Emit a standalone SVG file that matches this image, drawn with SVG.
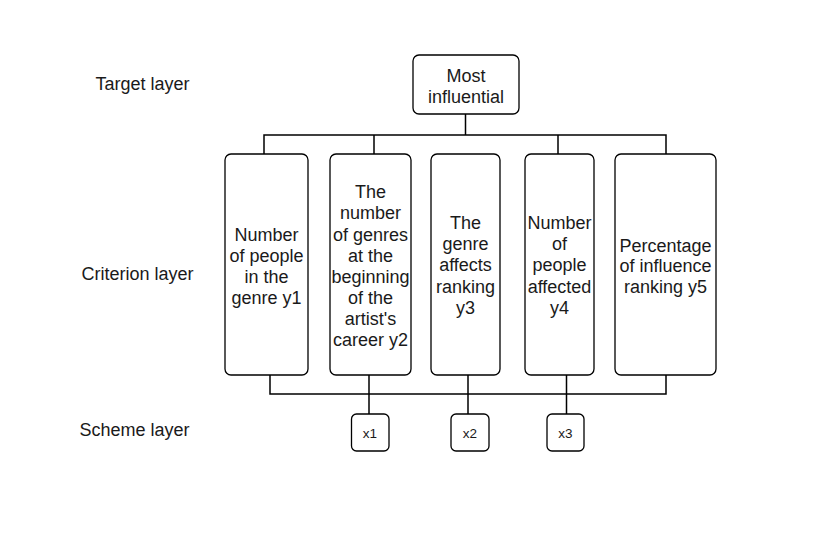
<svg xmlns="http://www.w3.org/2000/svg" width="815" height="537" viewBox="0 0 815 537">
<style>
.box{fill:#fff;stroke:#000;stroke-width:1.3}
.ln{fill:none;stroke:#000;stroke-width:1.5}
text{font-family:"Liberation Sans",Arial,sans-serif;font-size:18px;fill:#1a1a1a;text-anchor:middle}
.sm{font-size:13.5px}
</style>
<rect width="815" height="537" fill="#fff"/>
<g id="labels">
<text x="142.5" y="89.5">Target layer</text>
<text x="137.5" y="279.5">Criterion layer</text>
<text x="134.5" y="435.5">Scheme layer</text>
</g>
<g id="connectors">
<path class="ln" d="M465.5 114V135M264 154V135H666V154M374 135V154M558 135V154"/>
<path class="ln" d="M270 375V394H666V375M369 375V414M468 375V414M566.5 375V414"/>
</g>
<g id="target">
<rect class="box" x="413" y="55" width="106" height="59" rx="6"/>
<text x="466" y="81.5">Most</text>
<text x="466" y="102.5">influential</text>
</g>
<g id="y1">
<rect class="box" x="225" y="154" width="83" height="221" rx="6"/>
<text x="266.5" y="241">Number</text>
<text x="266.5" y="262">of people</text>
<text x="266.5" y="283">in the</text>
<text x="266.5" y="304">genre y1</text>
</g>
<g id="y2">
<rect class="box" x="330" y="154" width="81" height="221" rx="6"/>
<text x="370.5" y="198">The</text>
<text x="370.5" y="219">number</text>
<text x="370.5" y="240.5">of genres</text>
<text x="370.5" y="261.5">at the</text>
<text x="370.5" y="282.5">beginning</text>
<text x="370.5" y="303.5">of the</text>
<text x="370.5" y="325">artist's</text>
<text x="370.5" y="346">career y2</text>
</g>
<g id="y3">
<rect class="box" x="431" y="154" width="69" height="221" rx="6"/>
<text x="465.5" y="229">The</text>
<text x="465.5" y="250">genre</text>
<text x="465.5" y="271">affects</text>
<text x="465.5" y="293">ranking</text>
<text x="465.5" y="314">y3</text>
</g>
<g id="y4">
<rect class="box" x="525" y="154" width="69" height="221" rx="6"/>
<text x="559.5" y="229">Number</text>
<text x="559.5" y="250">of</text>
<text x="559.5" y="271">people</text>
<text x="559.5" y="293">affected</text>
<text x="559.5" y="314">y4</text>
</g>
<g id="y5">
<rect class="box" x="615" y="154" width="101" height="221" rx="6"/>
<text x="665.5" y="251.5">Percentage</text>
<text x="665.5" y="272">of influence</text>
<text x="665.5" y="293">ranking y5</text>
</g>
<g id="x1">
<rect class="box" x="351.5" y="414" width="37.5" height="37" rx="5"/>
<text class="sm" x="370" y="437.5">x1</text>
</g>
<g id="x2">
<rect class="box" x="451" y="414" width="38" height="37" rx="5"/>
<text class="sm" x="470" y="437.5">x2</text>
</g>
<g id="x3">
<rect class="box" x="547" y="414" width="37" height="37" rx="5"/>
<text class="sm" x="565.5" y="437.5">x3</text>
</g>
</svg>
